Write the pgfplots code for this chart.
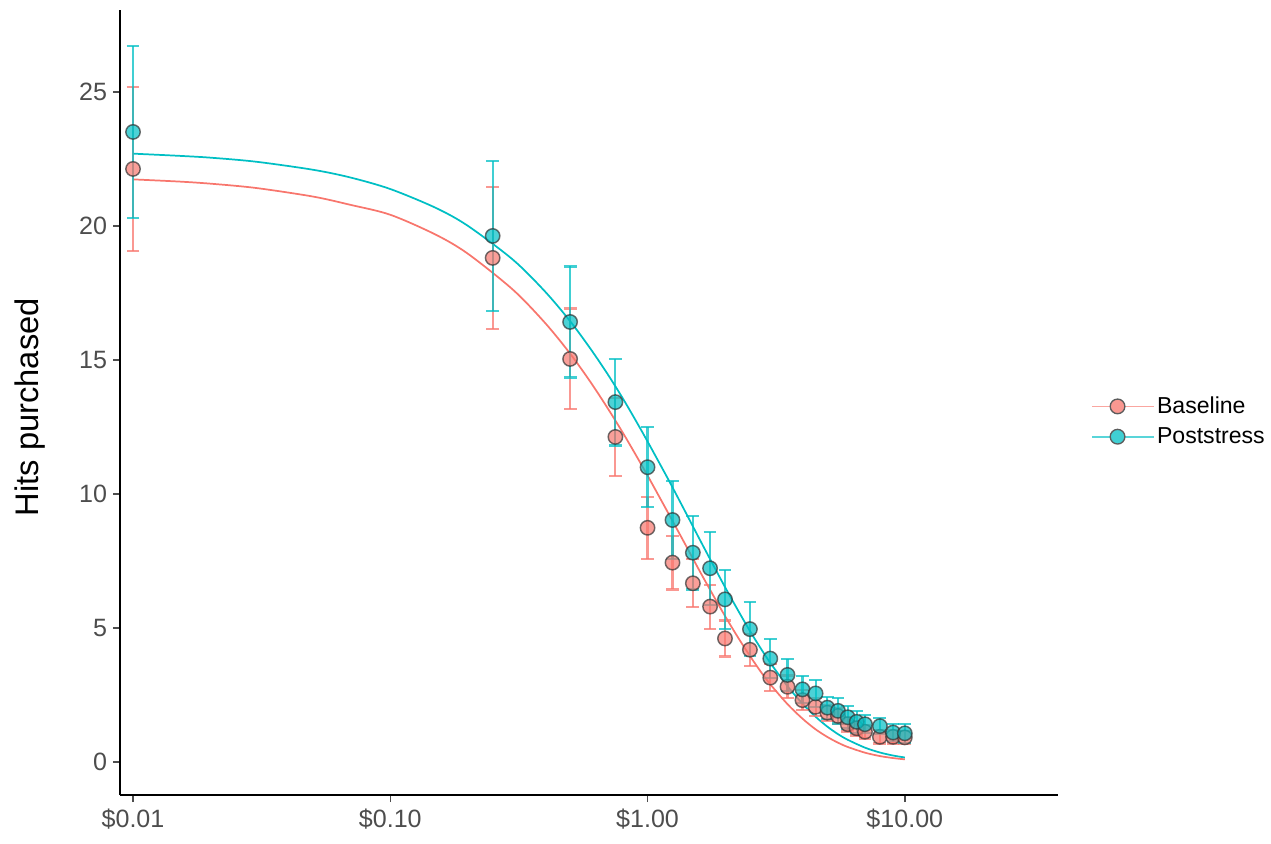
\documentclass[border=0pt]{standalone}
\usepackage{pgfplots}
\pgfplotsset{compat=1.18}
\usepackage{pgfplotstable}
\usepackage{fontspec}
\setmainfont{Liberation Sans}
\definecolor{cred}{HTML}{F8766D}
\definecolor{ccyan}{HTML}{00BFC4}
\definecolor{tickgray}{HTML}{4D4D4D}
\definecolor{ptedge}{HTML}{333333}

\pgfplotstableread{
x y e
0.01 22.13 3.06
0.25 18.81 2.66
0.5 15.04 1.88
0.75 12.13 1.46
1.0 8.74 1.15
1.25 7.44 1.00
1.5 6.67 0.90
1.75 5.80 0.82
2.0 4.61 0.67
2.5 4.19 0.60
3.0 3.15 0.50
3.5 2.81 0.42
4.0 2.31 0.37
4.5 2.06 0.33
5.0 1.84 0.30
5.5 1.72 0.30
6.0 1.41 0.27
6.5 1.26 0.27
7.0 1.13 0.25
8.0 0.94 0.25
9.0 0.94 0.25
10.0 0.92 0.25
}\baseline

\pgfplotstableread{
x y e
0.01 23.51 3.20
0.25 19.63 2.80
0.5 16.42 2.07
0.75 13.43 1.62
1.0 11.00 1.50
1.25 9.03 1.47
1.5 7.81 1.37
1.75 7.23 1.36
2.0 6.07 1.10
2.5 4.96 1.01
3.0 3.86 0.74
3.5 3.25 0.61
4.0 2.71 0.51
4.5 2.56 0.50
5.0 2.03 0.41
5.5 1.91 0.47
6.0 1.67 0.42
6.5 1.50 0.41
7.0 1.41 0.34
8.0 1.34 0.31
9.0 1.10 0.31
10.0 1.07 0.35
}\poststress

\pgfplotstableread{
x y
0.01 21.74
0.015 21.66
0.02 21.58
0.03 21.42
0.05 21.10
0.07 20.79
0.1 20.42
0.15 19.68
0.2 18.97
0.3 17.62
0.4 16.38
0.5 15.24
0.6 14.18
0.7 13.20
0.8 12.30
0.9 11.46
1.0 10.69
1.2 9.31
1.4 8.13
1.6 7.10
1.8 6.22
2.0 5.45
2.25 4.64
2.5 3.96
2.75 3.38
3 2.90
3.5 2.16
4 1.62
4.5 1.22
5 0.935
5.5 0.721
6 0.562
7 0.349
8 0.223
9 0.148
10 0.100
}\baselinefit

\pgfplotstableread{
x y
0.01 22.70
0.015 22.62
0.02 22.55
0.03 22.40
0.05 22.10
0.07 21.81
0.1 21.38
0.15 20.68
0.2 20.01
0.3 18.74
0.4 17.55
0.5 16.45
0.6 15.42
0.7 14.47
0.8 13.58
0.9 12.74
1.0 11.96
1.2 10.57
1.4 9.35
1.6 8.28
1.8 7.35
2.0 6.53
2.25 5.65
2.5 4.89
2.75 4.25
3 3.70
3.5 2.83
4 2.18
4.5 1.69
5 1.32
5.5 1.04
6 0.830
7 0.537
8 0.356
9 0.243
10 0.170
}\poststressfit

\begin{document}
\begin{tikzpicture}
\begin{axis}[
  scale only axis,
  width=703.5pt, height=588.75pt,
  xmode=log,
  xmin=0.0089, xmax=39.4,
  ymin=-1.23, ymax=28.06,
  axis x line*=bottom, axis y line*=left,
  axis line style={black, line width=1.1pt},
  xtick={0.01,0.1,1,10},
  xticklabels={\$0.01,\$0.10,\$1.00,\$10.00},
  ytick={0,5,10,15,20,25},
  xminorticks=false, yminorticks=false,
  tick align=outside,
  major tick length=5.25pt,
  tick style={tickgray, line width=1.1pt},
  /pgf/number format/assume math mode=true,
  ticklabel style={font=\fontsize{18.8}{22}\selectfont, text=tickgray},
  xticklabel style={yshift=-2pt},
  yticklabel style={xshift=-1pt},
  ylabel={Hits purchased},
  ylabel style={font=\fontsize{24.5}{28}\selectfont, at={(axis description cs:-0.096,0.494)}, anchor=center},
  legend style={draw=none, fill=none, at={(axis description cs:1.031,0.476)}, anchor=west,
    font=\fontsize{17.3}{20}\selectfont, row sep=5pt},
  legend cell align=left,
  legend image code/.code={\path (0pt,0pt) -- (46pt,0pt);\draw[mark repeat=2,mark phase=2,#1] plot coordinates {(0pt,0pt) (19pt,0pt) (38pt,0pt)};},
  clip=false,
]
\addlegendimage{cred!65!white, line width=1.3pt, mark=*, mark size=5.5pt, mark options={fill=cred!75!white, draw=ptedge!80!white, line width=1pt}}
\addlegendentry{Baseline}
\addlegendimage{ccyan!65!white, line width=1.3pt, mark=*, mark size=5.5pt, mark options={fill=ccyan!75!white, draw=ptedge!80!white, line width=1pt}}
\addlegendentry{Poststress}

% fitted curves
\addplot[cred, line width=1.3pt, no markers, smooth, forget plot] table[x=x,y=y] {\baselinefit};
\addplot[ccyan, line width=1.3pt, no markers, smooth, forget plot] table[x=x,y=y] {\poststressfit};

% error bars
\addplot[draw=none, forget plot, mark=none,
  error bars/.cd, y dir=both, y explicit,
  error bar style={cred, opacity=0.75, line width=1.6pt},
  error mark options={rotate=90, mark size=4.8pt, cred, opacity=0.75, line width=1.6pt}]
  table[x=x, y=y, y error=e] {\baseline};
\addplot[draw=none, forget plot, mark=none,
  error bars/.cd, y dir=both, y explicit,
  error bar style={ccyan, opacity=0.75, line width=1.6pt},
  error mark options={rotate=90, mark size=4.8pt, ccyan, opacity=0.75, line width=1.6pt}]
  table[x=x, y=y, y error=e] {\poststress};

% points
\addplot[only marks, forget plot, mark=*, mark size=5.4pt,
  mark options={fill=cred, fill opacity=0.7, draw=ptedge, draw opacity=0.7, line width=1.1pt}]
  table[x=x,y=y] {\baseline};
\addplot[only marks, forget plot, mark=*, mark size=5.4pt,
  mark options={fill=ccyan, fill opacity=0.7, draw=ptedge, draw opacity=0.7, line width=1.1pt}]
  table[x=x,y=y] {\poststress};
\end{axis}
\pgfresetboundingbox
\path (-90pt,-36pt) rectangle (863.25pt,596.25pt);
\end{tikzpicture}
\end{document}
